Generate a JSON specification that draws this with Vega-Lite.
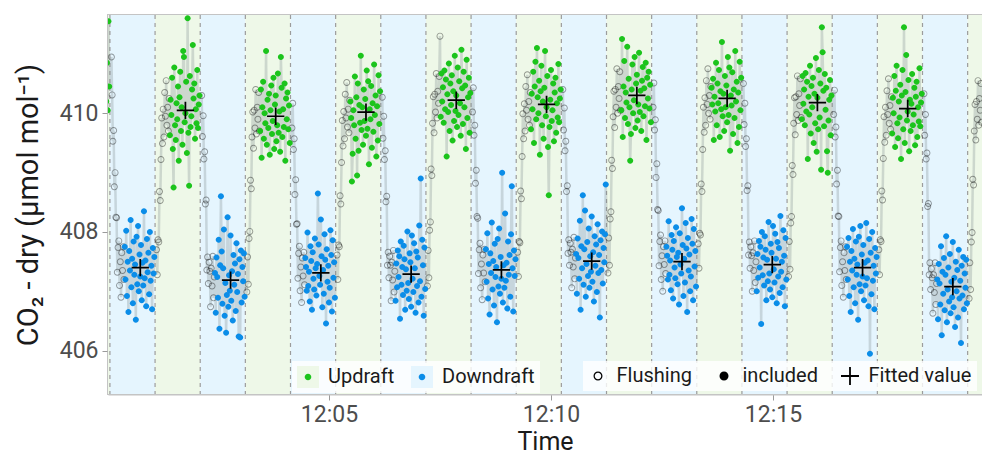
{
"$schema":"https://vega.github.io/schema/vega-lite/v6.json",
"width":874,"height":379,
"autosize":{"type":"none"},
"padding":{"left":108,"top":15,"right":0,"bottom":62},
"background":"white",
"config":{
 "font":"Roboto",
 "view":{"stroke":"#c4c4c4","strokeWidth":2},
 "axis":{"labelFont":"Roboto","titleFont":"Roboto","labelFontSize":23,"labelColor":"#4d4d4d","titleFontSize":27,"titleColor":"#1a1a1a","titleFontWeight":"normal","tickColor":"#9a9a9a","tickSize":6,"domainColor":"#c4c4c4","domainWidth":2,"grid":false,"labelPadding":4},
 "legend":{"labelFont":"Roboto","labelColor":"#1a1a1a","labelFontSize":20}
},
"datasets":{
"bands":[{"s":-57,"e":4,"d":"Up"},{"s":4,"e":65,"d":"Down"},{"s":65,"e":126,"d":"Up"},{"s":126,"e":187,"d":"Down"},{"s":187,"e":248,"d":"Up"},{"s":248,"e":309,"d":"Down"},{"s":309,"e":370,"d":"Up"},{"s":370,"e":431,"d":"Down"},{"s":431,"e":492,"d":"Up"},{"s":492,"e":553,"d":"Down"},{"s":553,"e":614,"d":"Up"},{"s":614,"e":675,"d":"Down"},{"s":675,"e":736,"d":"Up"},{"s":736,"e":797,"d":"Down"},{"s":797,"e":858,"d":"Up"},{"s":858,"e":919,"d":"Down"},{"s":919,"e":980,"d":"Up"},{"s":980,"e":1041,"d":"Down"},{"s":1041,"e":1102,"d":"Up"},{"s":1102,"e":1163,"d":"Down"},{"s":1163,"e":1224,"d":"Up"}],
"fit":[{"t":45,"v":407.40},{"t":106,"v":410.05},{"t":167,"v":407.19},{"t":228,"v":409.95},{"t":289,"v":407.31},{"t":350,"v":410.02},{"t":411,"v":407.29},{"t":472,"v":410.22},{"t":533,"v":407.36},{"t":594,"v":410.15},{"t":655,"v":407.51},{"t":716,"v":410.30},{"t":777,"v":407.50},{"t":838,"v":410.25},{"t":899,"v":407.45},{"t":960,"v":410.18},{"t":1021,"v":407.40},{"t":1082,"v":410.08},{"t":1143,"v":407.08}],
"pts":[
{"t":-1,"v":410.20,"k":"U"},{"t":0,"v":410.85,"k":"U"},{"t":1,"v":410.05,"k":"U"},{"t":2,"v":411.55,"k":"U"},{"t":3,"v":410.45,"k":"U"},
{"t":6,"v":410.95,"k":"F"},{"t":7,"v":410.31,"k":"F"},{"t":8,"v":409.53,"k":"F"},{"t":9,"v":409.71,"k":"F"},{"t":10,"v":408.76,"k":"F"},{"t":11,"v":409.00,"k":"F"},{"t":12,"v":408.25,"k":"F"},{"t":13,"v":408.24,"k":"F"},{"t":14,"v":407.32,"k":"F"},{"t":15,"v":407.74,"k":"F"},{"t":16,"v":407.85,"k":"F"},{"t":17,"v":407.10,"k":"F"},{"t":18,"v":407.50,"k":"F"},{"t":19,"v":406.90,"k":"F"},{"t":20,"v":407.65,"k":"F"},{"t":21,"v":407.35,"k":"F"},{"t":22,"v":407.75,"k":"F"},{"t":23,"v":407.20,"k":"F"},
{"t":24,"v":407.75,"k":"D"},{"t":25,"v":407.20,"k":"D"},{"t":26,"v":408.02,"k":"D"},{"t":27,"v":406.92,"k":"D"},{"t":28,"v":407.50,"k":"D"},{"t":29,"v":406.65,"k":"D"},{"t":30,"v":407.68,"k":"D"},{"t":31,"v":407.35,"k":"D"},{"t":32,"v":408.20,"k":"D"},{"t":33,"v":407.07,"k":"D"},{"t":34,"v":407.55,"k":"D"},{"t":35,"v":406.80,"k":"D"},{"t":36,"v":407.84,"k":"D"},{"t":37,"v":407.28,"k":"D"},{"t":38,"v":407.45,"k":"D"},{"t":39,"v":406.52,"k":"D"},{"t":40,"v":407.92,"k":"D"},{"t":41,"v":407.12,"k":"D"},{"t":42,"v":408.10,"k":"D"},{"t":43,"v":407.00,"k":"D"},{"t":44,"v":407.62,"k":"D"},{"t":45,"v":407.25,"k":"D"},{"t":46,"v":407.78,"k":"D"},{"t":47,"v":406.85,"k":"D"},{"t":48,"v":407.48,"k":"D"},{"t":49,"v":407.10,"k":"D"},{"t":50,"v":408.35,"k":"D"},{"t":51,"v":407.22,"k":"D"},{"t":52,"v":407.52,"k":"D"},{"t":53,"v":406.75,"k":"D"},{"t":54,"v":407.88,"k":"D"},{"t":55,"v":407.32,"k":"D"},{"t":56,"v":407.65,"k":"D"},{"t":57,"v":406.95,"k":"D"},{"t":58,"v":408.00,"k":"D"},{"t":59,"v":407.18,"k":"D"},{"t":60,"v":407.43,"k":"D"},{"t":61,"v":406.70,"k":"D"},{"t":62,"v":407.73,"k":"D"},{"t":63,"v":407.30,"k":"D"},{"t":64,"v":407.58,"k":"D"},
{"t":67,"v":407.70,"k":"F"},{"t":68,"v":407.28,"k":"F"},{"t":69,"v":407.87,"k":"F"},{"t":70,"v":407.83,"k":"F"},{"t":71,"v":408.68,"k":"F"},{"t":72,"v":408.53,"k":"F"},{"t":73,"v":409.22,"k":"F"},{"t":74,"v":409.92,"k":"F"},{"t":75,"v":409.49,"k":"F"},{"t":76,"v":410.07,"k":"F"},{"t":77,"v":409.60,"k":"F"},{"t":78,"v":410.35,"k":"F"},{"t":79,"v":409.95,"k":"F"},{"t":80,"v":410.55,"k":"F"},{"t":81,"v":409.80,"k":"F"},{"t":82,"v":410.10,"k":"F"},{"t":83,"v":409.70,"k":"F"},{"t":84,"v":410.25,"k":"F"},
{"t":85,"v":409.63,"k":"U"},{"t":86,"v":410.23,"k":"U"},{"t":87,"v":409.97,"k":"U"},{"t":88,"v":410.60,"k":"U"},{"t":89,"v":409.40,"k":"U"},{"t":90,"v":408.75,"k":"U"},{"t":91,"v":410.77,"k":"U"},{"t":92,"v":409.80,"k":"U"},{"t":93,"v":409.55,"k":"U"},{"t":94,"v":410.17,"k":"U"},{"t":95,"v":409.90,"k":"U"},{"t":96,"v":410.45,"k":"U"},{"t":97,"v":409.20,"k":"U"},{"t":98,"v":410.27,"k":"U"},{"t":99,"v":410.70,"k":"U"},{"t":100,"v":409.70,"k":"U"},{"t":101,"v":410.10,"k":"U"},{"t":102,"v":409.47,"k":"U"},{"t":103,"v":411.05,"k":"U"},{"t":104,"v":410.95,"k":"U"},{"t":105,"v":409.85,"k":"U"},{"t":106,"v":410.00,"k":"U"},{"t":107,"v":410.53,"k":"U"},{"t":108,"v":409.33,"k":"U"},{"t":109,"v":411.60,"k":"U"},{"t":110,"v":409.67,"k":"U"},{"t":111,"v":408.78,"k":"U"},{"t":112,"v":410.63,"k":"U"},{"t":113,"v":409.77,"k":"U"},{"t":114,"v":409.95,"k":"U"},{"t":115,"v":410.40,"k":"U"},{"t":116,"v":411.15,"k":"U"},{"t":117,"v":410.25,"k":"U"},{"t":118,"v":410.50,"k":"U"},{"t":119,"v":409.57,"k":"U"},{"t":120,"v":410.07,"k":"U"},{"t":121,"v":409.83,"k":"U"},{"t":122,"v":410.73,"k":"U"},{"t":123,"v":409.75,"k":"U"},{"t":124,"v":410.15,"k":"U"},{"t":125,"v":410.30,"k":"U"},
{"t":128,"v":410.30,"k":"F"},{"t":129,"v":409.61,"k":"F"},{"t":130,"v":409.96,"k":"F"},{"t":131,"v":409.23,"k":"F"},{"t":132,"v":409.35,"k":"F"},{"t":133,"v":408.47,"k":"F"},{"t":134,"v":408.54,"k":"F"},{"t":135,"v":407.36,"k":"F"},{"t":136,"v":407.58,"k":"F"},{"t":137,"v":407.13,"k":"F"},{"t":138,"v":407.49,"k":"F"},{"t":139,"v":407.34,"k":"F"},{"t":140,"v":406.74,"k":"F"},{"t":141,"v":407.39,"k":"F"},{"t":142,"v":407.09,"k":"F"},{"t":143,"v":407.59,"k":"F"},{"t":144,"v":406.89,"k":"F"},{"t":145,"v":407.24,"k":"F"},
{"t":146,"v":407.31,"k":"D"},{"t":147,"v":406.64,"k":"D"},{"t":148,"v":407.57,"k":"D"},{"t":149,"v":407.24,"k":"D"},{"t":150,"v":406.89,"k":"D"},{"t":151,"v":407.87,"k":"D"},{"t":152,"v":406.37,"k":"D"},{"t":153,"v":407.44,"k":"D"},{"t":154,"v":408.60,"k":"D"},{"t":155,"v":407.67,"k":"D"},{"t":156,"v":406.79,"k":"D"},{"t":157,"v":407.39,"k":"D"},{"t":158,"v":408.04,"k":"D"},{"t":159,"v":406.59,"k":"D"},{"t":160,"v":407.14,"k":"D"},{"t":161,"v":406.30,"k":"D"},{"t":162,"v":406.94,"k":"D"},{"t":163,"v":408.25,"k":"D"},{"t":164,"v":406.74,"k":"D"},{"t":165,"v":407.27,"k":"D"},{"t":166,"v":407.01,"k":"D"},{"t":167,"v":407.94,"k":"D"},{"t":168,"v":406.84,"k":"D"},{"t":169,"v":407.34,"k":"D"},{"t":170,"v":406.51,"k":"D"},{"t":171,"v":407.61,"k":"D"},{"t":172,"v":407.11,"k":"D"},{"t":173,"v":407.47,"k":"D"},{"t":174,"v":406.67,"k":"D"},{"t":175,"v":407.81,"k":"D"},{"t":176,"v":406.99,"k":"D"},{"t":177,"v":407.29,"k":"D"},{"t":178,"v":406.24,"k":"D"},{"t":179,"v":407.54,"k":"D"},{"t":180,"v":406.22,"k":"D"},{"t":181,"v":407.69,"k":"D"},{"t":182,"v":406.81,"k":"D"},{"t":183,"v":407.41,"k":"D"},{"t":184,"v":407.17,"k":"D"},{"t":185,"v":407.64,"k":"D"},{"t":186,"v":406.91,"k":"D"},
{"t":189,"v":406.99,"k":"F"},{"t":190,"v":407.58,"k":"F"},{"t":191,"v":407.12,"k":"F"},{"t":192,"v":407.89,"k":"F"},{"t":193,"v":408.01,"k":"F"},{"t":194,"v":408.87,"k":"F"},{"t":195,"v":408.73,"k":"F"},{"t":196,"v":409.60,"k":"F"},{"t":197,"v":410.02,"k":"F"},{"t":198,"v":409.41,"k":"F"},{"t":199,"v":410.05,"k":"F"},{"t":200,"v":409.75,"k":"F"},{"t":201,"v":410.40,"k":"F"},{"t":202,"v":409.65,"k":"F"},{"t":203,"v":410.10,"k":"F"},{"t":204,"v":409.90,"k":"F"},{"t":205,"v":410.35,"k":"F"},{"t":206,"v":409.70,"k":"F"},
{"t":207,"v":409.70,"k":"U"},{"t":208,"v":410.40,"k":"U"},{"t":209,"v":409.25,"k":"U"},{"t":210,"v":410.10,"k":"U"},{"t":211,"v":410.53,"k":"U"},{"t":212,"v":409.57,"k":"U"},{"t":213,"v":410.00,"k":"U"},{"t":214,"v":409.83,"k":"U"},{"t":215,"v":411.05,"k":"U"},{"t":216,"v":409.47,"k":"U"},{"t":217,"v":410.23,"k":"U"},{"t":218,"v":409.75,"k":"U"},{"t":219,"v":410.33,"k":"U"},{"t":220,"v":409.30,"k":"U"},{"t":221,"v":410.05,"k":"U"},{"t":222,"v":410.47,"k":"U"},{"t":223,"v":409.65,"k":"U"},{"t":224,"v":409.87,"k":"U"},{"t":225,"v":410.60,"k":"U"},{"t":226,"v":409.40,"k":"U"},{"t":227,"v":410.15,"k":"U"},{"t":228,"v":410.30,"k":"U"},{"t":229,"v":409.53,"k":"U"},{"t":230,"v":409.80,"k":"U"},{"t":231,"v":410.67,"k":"U"},{"t":232,"v":409.67,"k":"U"},{"t":233,"v":410.03,"k":"U"},{"t":234,"v":409.35,"k":"U"},{"t":235,"v":410.95,"k":"U"},{"t":236,"v":410.43,"k":"U"},{"t":237,"v":409.60,"k":"U"},{"t":238,"v":410.07,"k":"U"},{"t":239,"v":409.77,"k":"U"},{"t":240,"v":410.50,"k":"U"},{"t":241,"v":409.20,"k":"U"},{"t":242,"v":410.25,"k":"U"},{"t":243,"v":409.90,"k":"U"},{"t":244,"v":410.35,"k":"U"},{"t":245,"v":409.73,"k":"U"},{"t":246,"v":410.13,"k":"U"},{"t":247,"v":409.50,"k":"U"},
{"t":250,"v":409.75,"k":"F"},{"t":251,"v":410.17,"k":"F"},{"t":252,"v":409.39,"k":"F"},{"t":253,"v":409.57,"k":"F"},{"t":254,"v":408.63,"k":"F"},{"t":255,"v":408.88,"k":"F"},{"t":256,"v":408.13,"k":"F"},{"t":257,"v":408.14,"k":"F"},{"t":258,"v":407.22,"k":"F"},{"t":259,"v":407.64,"k":"F"},{"t":260,"v":407.76,"k":"F"},{"t":261,"v":407.01,"k":"F"},{"t":262,"v":407.41,"k":"F"},{"t":263,"v":406.81,"k":"F"},{"t":264,"v":407.56,"k":"F"},{"t":265,"v":407.26,"k":"F"},{"t":266,"v":407.66,"k":"F"},{"t":267,"v":407.11,"k":"F"},
{"t":268,"v":407.56,"k":"D"},{"t":269,"v":407.41,"k":"D"},{"t":270,"v":407.01,"k":"D"},{"t":271,"v":407.99,"k":"D"},{"t":272,"v":407.09,"k":"D"},{"t":273,"v":407.33,"k":"D"},{"t":274,"v":406.83,"k":"D"},{"t":275,"v":407.76,"k":"D"},{"t":276,"v":407.51,"k":"D"},{"t":277,"v":406.69,"k":"D"},{"t":278,"v":407.66,"k":"D"},{"t":279,"v":407.21,"k":"D"},{"t":280,"v":407.03,"k":"D"},{"t":281,"v":407.89,"k":"D"},{"t":282,"v":407.39,"k":"D"},{"t":283,"v":406.93,"k":"D"},{"t":284,"v":407.46,"k":"D"},{"t":285,"v":408.65,"k":"D"},{"t":286,"v":407.79,"k":"D"},{"t":287,"v":407.26,"k":"D"},{"t":288,"v":407.11,"k":"D"},{"t":289,"v":408.21,"k":"D"},{"t":290,"v":407.59,"k":"D"},{"t":291,"v":406.73,"k":"D"},{"t":292,"v":407.36,"k":"D"},{"t":293,"v":406.96,"k":"D"},{"t":294,"v":407.96,"k":"D"},{"t":295,"v":407.53,"k":"D"},{"t":296,"v":406.46,"k":"D"},{"t":297,"v":407.71,"k":"D"},{"t":298,"v":407.16,"k":"D"},{"t":299,"v":407.43,"k":"D"},{"t":300,"v":406.81,"k":"D"},{"t":301,"v":407.06,"k":"D"},{"t":302,"v":408.03,"k":"D"},{"t":303,"v":407.61,"k":"D"},{"t":304,"v":406.66,"k":"D"},{"t":305,"v":407.86,"k":"D"},{"t":306,"v":407.23,"k":"D"},{"t":307,"v":407.49,"k":"D"},{"t":308,"v":406.89,"k":"D"},
{"t":311,"v":407.61,"k":"F"},{"t":312,"v":407.20,"k":"F"},{"t":313,"v":407.78,"k":"F"},{"t":314,"v":407.75,"k":"F"},{"t":315,"v":408.61,"k":"F"},{"t":316,"v":408.47,"k":"F"},{"t":317,"v":409.17,"k":"F"},{"t":318,"v":409.88,"k":"F"},{"t":319,"v":409.45,"k":"F"},{"t":320,"v":410.03,"k":"F"},{"t":321,"v":409.57,"k":"F"},{"t":322,"v":410.32,"k":"F"},{"t":323,"v":409.92,"k":"F"},{"t":324,"v":410.52,"k":"F"},{"t":325,"v":409.77,"k":"F"},{"t":326,"v":410.07,"k":"F"},{"t":327,"v":409.67,"k":"F"},{"t":328,"v":410.22,"k":"F"},
{"t":329,"v":410.20,"k":"U"},{"t":330,"v":409.92,"k":"U"},{"t":331,"v":408.85,"k":"U"},{"t":332,"v":409.32,"k":"U"},{"t":333,"v":410.05,"k":"U"},{"t":334,"v":409.80,"k":"U"},{"t":335,"v":410.62,"k":"U"},{"t":336,"v":409.57,"k":"U"},{"t":337,"v":410.27,"k":"U"},{"t":338,"v":408.95,"k":"U"},{"t":339,"v":410.50,"k":"U"},{"t":340,"v":409.37,"k":"U"},{"t":341,"v":410.14,"k":"U"},{"t":342,"v":409.84,"k":"U"},{"t":343,"v":410.97,"k":"U"},{"t":344,"v":409.72,"k":"U"},{"t":345,"v":410.10,"k":"U"},{"t":346,"v":409.47,"k":"U"},{"t":347,"v":410.40,"k":"U"},{"t":348,"v":409.87,"k":"U"},{"t":349,"v":410.24,"k":"U"},{"t":350,"v":409.62,"k":"U"},{"t":351,"v":410.72,"k":"U"},{"t":352,"v":409.74,"k":"U"},{"t":353,"v":410.54,"k":"U"},{"t":354,"v":409.14,"k":"U"},{"t":355,"v":410.07,"k":"U"},{"t":356,"v":409.90,"k":"U"},{"t":357,"v":410.46,"k":"U"},{"t":358,"v":409.42,"k":"U"},{"t":359,"v":410.17,"k":"U"},{"t":360,"v":409.69,"k":"U"},{"t":361,"v":410.82,"k":"U"},{"t":362,"v":409.97,"k":"U"},{"t":363,"v":410.30,"k":"U"},{"t":364,"v":409.27,"k":"U"},{"t":365,"v":410.12,"k":"U"},{"t":366,"v":409.54,"k":"U"},{"t":367,"v":410.64,"k":"U"},{"t":368,"v":409.82,"k":"U"},{"t":369,"v":410.37,"k":"U"},
{"t":372,"v":410.27,"k":"F"},{"t":373,"v":409.58,"k":"F"},{"t":374,"v":409.95,"k":"F"},{"t":375,"v":409.22,"k":"F"},{"t":376,"v":409.37,"k":"F"},{"t":377,"v":408.51,"k":"F"},{"t":378,"v":408.60,"k":"F"},{"t":379,"v":407.44,"k":"F"},{"t":380,"v":407.66,"k":"F"},{"t":381,"v":407.23,"k":"F"},{"t":382,"v":407.59,"k":"F"},{"t":383,"v":407.44,"k":"F"},{"t":384,"v":406.84,"k":"F"},{"t":385,"v":407.49,"k":"F"},{"t":386,"v":407.19,"k":"F"},{"t":387,"v":407.69,"k":"F"},{"t":388,"v":406.99,"k":"F"},{"t":389,"v":407.34,"k":"F"},
{"t":390,"v":406.84,"k":"D"},{"t":391,"v":407.47,"k":"D"},{"t":392,"v":407.07,"k":"D"},{"t":393,"v":407.69,"k":"D"},{"t":394,"v":407.24,"k":"D"},{"t":395,"v":407.59,"k":"D"},{"t":396,"v":406.54,"k":"D"},{"t":397,"v":407.84,"k":"D"},{"t":398,"v":407.11,"k":"D"},{"t":399,"v":407.41,"k":"D"},{"t":400,"v":406.94,"k":"D"},{"t":401,"v":407.77,"k":"D"},{"t":402,"v":407.54,"k":"D"},{"t":403,"v":406.69,"k":"D"},{"t":404,"v":407.37,"k":"D"},{"t":405,"v":407.01,"k":"D"},{"t":406,"v":408.01,"k":"D"},{"t":407,"v":407.14,"k":"D"},{"t":408,"v":406.87,"k":"D"},{"t":409,"v":407.64,"k":"D"},{"t":410,"v":407.49,"k":"D"},{"t":411,"v":406.74,"k":"D"},{"t":412,"v":407.94,"k":"D"},{"t":413,"v":407.21,"k":"D"},{"t":414,"v":406.99,"k":"D"},{"t":415,"v":407.81,"k":"D"},{"t":416,"v":407.39,"k":"D"},{"t":417,"v":406.64,"k":"D"},{"t":418,"v":407.67,"k":"D"},{"t":419,"v":407.09,"k":"D"},{"t":420,"v":407.57,"k":"D"},{"t":421,"v":406.81,"k":"D"},{"t":422,"v":408.11,"k":"D"},{"t":423,"v":407.17,"k":"D"},{"t":424,"v":408.90,"k":"D"},{"t":425,"v":406.91,"k":"D"},{"t":426,"v":407.87,"k":"D"},{"t":427,"v":407.44,"k":"D"},{"t":428,"v":406.59,"k":"D"},{"t":429,"v":407.74,"k":"D"},{"t":430,"v":407.04,"k":"D"},
{"t":433,"v":407.09,"k":"F"},{"t":434,"v":407.69,"k":"F"},{"t":435,"v":407.23,"k":"F"},{"t":436,"v":408.03,"k":"F"},{"t":437,"v":408.17,"k":"F"},{"t":438,"v":409.06,"k":"F"},{"t":439,"v":408.95,"k":"F"},{"t":440,"v":409.83,"k":"F"},{"t":441,"v":410.28,"k":"F"},{"t":442,"v":409.67,"k":"F"},{"t":443,"v":410.32,"k":"F"},{"t":444,"v":410.02,"k":"F"},{"t":445,"v":410.67,"k":"F"},{"t":446,"v":409.92,"k":"F"},{"t":447,"v":410.37,"k":"F"},{"t":448,"v":410.17,"k":"F"},{"t":449,"v":410.62,"k":"F"},{"t":450,"v":411.30,"k":"F"},
{"t":451,"v":409.94,"k":"U"},{"t":452,"v":410.67,"k":"U"},{"t":453,"v":410.20,"k":"U"},{"t":454,"v":410.44,"k":"U"},{"t":455,"v":409.84,"k":"U"},{"t":456,"v":410.72,"k":"U"},{"t":457,"v":410.07,"k":"U"},{"t":458,"v":410.57,"k":"U"},{"t":459,"v":409.27,"k":"U"},{"t":460,"v":410.32,"k":"U"},{"t":461,"v":410.02,"k":"U"},{"t":462,"v":410.84,"k":"U"},{"t":463,"v":409.70,"k":"U"},{"t":464,"v":410.50,"k":"U"},{"t":465,"v":410.14,"k":"U"},{"t":466,"v":410.64,"k":"U"},{"t":467,"v":409.54,"k":"U"},{"t":468,"v":410.37,"k":"U"},{"t":469,"v":409.87,"k":"U"},{"t":470,"v":410.97,"k":"U"},{"t":471,"v":410.04,"k":"U"},{"t":472,"v":410.30,"k":"U"},{"t":473,"v":409.77,"k":"U"},{"t":474,"v":410.77,"k":"U"},{"t":475,"v":409.97,"k":"U"},{"t":476,"v":410.54,"k":"U"},{"t":477,"v":410.17,"k":"U"},{"t":478,"v":409.62,"k":"U"},{"t":479,"v":411.07,"k":"U"},{"t":480,"v":410.42,"k":"U"},{"t":481,"v":409.82,"k":"U"},{"t":482,"v":410.70,"k":"U"},{"t":483,"v":410.10,"k":"U"},{"t":484,"v":410.47,"k":"U"},{"t":485,"v":409.40,"k":"U"},{"t":486,"v":410.90,"k":"U"},{"t":487,"v":409.92,"k":"U"},{"t":488,"v":410.27,"k":"U"},{"t":489,"v":410.60,"k":"U"},{"t":490,"v":409.67,"k":"U"},{"t":491,"v":410.34,"k":"U"},
{"t":494,"v":410.02,"k":"F"},{"t":495,"v":410.43,"k":"F"},{"t":496,"v":409.63,"k":"F"},{"t":497,"v":409.80,"k":"F"},{"t":498,"v":408.82,"k":"F"},{"t":499,"v":409.04,"k":"F"},{"t":500,"v":408.26,"k":"F"},{"t":501,"v":408.23,"k":"F"},{"t":502,"v":407.30,"k":"F"},{"t":503,"v":407.70,"k":"F"},{"t":504,"v":407.81,"k":"F"},{"t":505,"v":407.06,"k":"F"},{"t":506,"v":407.46,"k":"F"},{"t":507,"v":406.86,"k":"F"},{"t":508,"v":407.61,"k":"F"},{"t":509,"v":407.31,"k":"F"},{"t":510,"v":407.71,"k":"F"},{"t":511,"v":407.16,"k":"F"},
{"t":512,"v":407.71,"k":"D"},{"t":513,"v":407.16,"k":"D"},{"t":514,"v":407.98,"k":"D"},{"t":515,"v":406.88,"k":"D"},{"t":516,"v":407.46,"k":"D"},{"t":517,"v":406.61,"k":"D"},{"t":518,"v":407.64,"k":"D"},{"t":519,"v":407.31,"k":"D"},{"t":520,"v":408.16,"k":"D"},{"t":521,"v":407.03,"k":"D"},{"t":522,"v":407.51,"k":"D"},{"t":523,"v":406.76,"k":"D"},{"t":524,"v":407.80,"k":"D"},{"t":525,"v":407.24,"k":"D"},{"t":526,"v":407.41,"k":"D"},{"t":527,"v":406.48,"k":"D"},{"t":528,"v":407.88,"k":"D"},{"t":529,"v":407.08,"k":"D"},{"t":530,"v":408.06,"k":"D"},{"t":531,"v":406.96,"k":"D"},{"t":532,"v":407.58,"k":"D"},{"t":533,"v":407.21,"k":"D"},{"t":534,"v":409.00,"k":"D"},{"t":535,"v":406.81,"k":"D"},{"t":536,"v":407.44,"k":"D"},{"t":537,"v":407.06,"k":"D"},{"t":538,"v":408.31,"k":"D"},{"t":539,"v":407.18,"k":"D"},{"t":540,"v":407.48,"k":"D"},{"t":541,"v":406.71,"k":"D"},{"t":542,"v":407.84,"k":"D"},{"t":543,"v":407.28,"k":"D"},{"t":544,"v":407.61,"k":"D"},{"t":545,"v":406.91,"k":"D"},{"t":546,"v":407.96,"k":"D"},{"t":547,"v":408.77,"k":"D"},{"t":548,"v":407.39,"k":"D"},{"t":549,"v":406.66,"k":"D"},{"t":550,"v":407.69,"k":"D"},{"t":551,"v":407.26,"k":"D"},{"t":552,"v":407.54,"k":"D"},
{"t":555,"v":407.66,"k":"F"},{"t":556,"v":407.25,"k":"F"},{"t":557,"v":407.84,"k":"F"},{"t":558,"v":407.82,"k":"F"},{"t":559,"v":408.69,"k":"F"},{"t":560,"v":408.56,"k":"F"},{"t":561,"v":409.27,"k":"F"},{"t":562,"v":409.99,"k":"F"},{"t":563,"v":409.57,"k":"F"},{"t":564,"v":410.16,"k":"F"},{"t":565,"v":409.70,"k":"F"},{"t":566,"v":410.45,"k":"F"},{"t":567,"v":410.05,"k":"F"},{"t":568,"v":410.65,"k":"F"},{"t":569,"v":409.90,"k":"F"},{"t":570,"v":410.20,"k":"F"},{"t":571,"v":409.80,"k":"F"},{"t":572,"v":410.35,"k":"F"},
{"t":573,"v":409.73,"k":"U"},{"t":574,"v":410.33,"k":"U"},{"t":575,"v":410.07,"k":"U"},{"t":576,"v":410.70,"k":"U"},{"t":577,"v":409.50,"k":"U"},{"t":578,"v":410.45,"k":"U"},{"t":579,"v":410.87,"k":"U"},{"t":580,"v":409.90,"k":"U"},{"t":581,"v":411.10,"k":"U"},{"t":582,"v":410.27,"k":"U"},{"t":583,"v":410.00,"k":"U"},{"t":584,"v":410.55,"k":"U"},{"t":585,"v":409.30,"k":"U"},{"t":586,"v":410.37,"k":"U"},{"t":587,"v":410.80,"k":"U"},{"t":588,"v":409.80,"k":"U"},{"t":589,"v":410.20,"k":"U"},{"t":590,"v":409.57,"k":"U"},{"t":591,"v":410.43,"k":"U"},{"t":592,"v":411.05,"k":"U"},{"t":593,"v":409.95,"k":"U"},{"t":594,"v":410.10,"k":"U"},{"t":595,"v":410.63,"k":"U"},{"t":596,"v":409.43,"k":"U"},{"t":597,"v":408.62,"k":"U"},{"t":598,"v":409.77,"k":"U"},{"t":599,"v":410.23,"k":"U"},{"t":600,"v":410.73,"k":"U"},{"t":601,"v":409.87,"k":"U"},{"t":602,"v":410.05,"k":"U"},{"t":603,"v":410.50,"k":"U"},{"t":604,"v":409.53,"k":"U"},{"t":605,"v":410.35,"k":"U"},{"t":606,"v":410.60,"k":"U"},{"t":607,"v":409.67,"k":"U"},{"t":608,"v":410.17,"k":"U"},{"t":609,"v":409.93,"k":"U"},{"t":610,"v":410.83,"k":"U"},{"t":611,"v":409.85,"k":"U"},{"t":612,"v":410.25,"k":"U"},{"t":613,"v":410.40,"k":"U"},
{"t":616,"v":410.40,"k":"F"},{"t":617,"v":409.72,"k":"F"},{"t":618,"v":410.09,"k":"F"},{"t":619,"v":409.37,"k":"F"},{"t":620,"v":409.53,"k":"F"},{"t":621,"v":408.68,"k":"F"},{"t":622,"v":408.78,"k":"F"},{"t":623,"v":407.64,"k":"F"},{"t":624,"v":407.87,"k":"F"},{"t":625,"v":407.44,"k":"F"},{"t":626,"v":407.81,"k":"F"},{"t":627,"v":407.66,"k":"F"},{"t":628,"v":407.06,"k":"F"},{"t":629,"v":407.71,"k":"F"},{"t":630,"v":407.41,"k":"F"},{"t":631,"v":407.91,"k":"F"},{"t":632,"v":407.21,"k":"F"},{"t":633,"v":407.56,"k":"F"},
{"t":634,"v":407.63,"k":"D"},{"t":635,"v":406.96,"k":"D"},{"t":636,"v":407.89,"k":"D"},{"t":637,"v":407.56,"k":"D"},{"t":638,"v":407.21,"k":"D"},{"t":639,"v":408.19,"k":"D"},{"t":640,"v":406.69,"k":"D"},{"t":641,"v":407.76,"k":"D"},{"t":642,"v":407.39,"k":"D"},{"t":643,"v":408.62,"k":"D"},{"t":644,"v":407.11,"k":"D"},{"t":645,"v":407.71,"k":"D"},{"t":646,"v":408.36,"k":"D"},{"t":647,"v":406.91,"k":"D"},{"t":648,"v":407.46,"k":"D"},{"t":649,"v":407.83,"k":"D"},{"t":650,"v":407.26,"k":"D"},{"t":651,"v":408.06,"k":"D"},{"t":652,"v":407.06,"k":"D"},{"t":653,"v":407.59,"k":"D"},{"t":654,"v":407.33,"k":"D"},{"t":655,"v":408.26,"k":"D"},{"t":656,"v":407.16,"k":"D"},{"t":657,"v":407.66,"k":"D"},{"t":658,"v":406.83,"k":"D"},{"t":659,"v":407.93,"k":"D"},{"t":660,"v":407.43,"k":"D"},{"t":661,"v":407.79,"k":"D"},{"t":662,"v":406.99,"k":"D"},{"t":663,"v":408.13,"k":"D"},{"t":664,"v":407.31,"k":"D"},{"t":665,"v":407.61,"k":"D"},{"t":666,"v":406.56,"k":"D"},{"t":667,"v":407.86,"k":"D"},{"t":668,"v":407.36,"k":"D"},{"t":669,"v":408.01,"k":"D"},{"t":670,"v":407.13,"k":"D"},{"t":671,"v":407.73,"k":"D"},{"t":672,"v":407.49,"k":"D"},{"t":673,"v":407.96,"k":"D"},{"t":674,"v":408.80,"k":"D"},
{"t":677,"v":407.31,"k":"F"},{"t":678,"v":407.90,"k":"F"},{"t":679,"v":407.44,"k":"F"},{"t":680,"v":408.22,"k":"F"},{"t":681,"v":408.34,"k":"F"},{"t":682,"v":409.21,"k":"F"},{"t":683,"v":409.07,"k":"F"},{"t":684,"v":409.94,"k":"F"},{"t":685,"v":410.37,"k":"F"},{"t":686,"v":409.76,"k":"F"},{"t":687,"v":410.40,"k":"F"},{"t":688,"v":410.10,"k":"F"},{"t":689,"v":410.75,"k":"F"},{"t":690,"v":410.00,"k":"F"},{"t":691,"v":410.45,"k":"F"},{"t":692,"v":410.25,"k":"F"},{"t":693,"v":410.70,"k":"F"},{"t":694,"v":410.05,"k":"F"},
{"t":695,"v":410.05,"k":"U"},{"t":696,"v":411.25,"k":"U"},{"t":697,"v":409.60,"k":"U"},{"t":698,"v":410.45,"k":"U"},{"t":699,"v":410.88,"k":"U"},{"t":700,"v":409.92,"k":"U"},{"t":701,"v":410.35,"k":"U"},{"t":702,"v":410.18,"k":"U"},{"t":703,"v":411.12,"k":"U"},{"t":704,"v":409.82,"k":"U"},{"t":705,"v":410.58,"k":"U"},{"t":706,"v":410.10,"k":"U"},{"t":707,"v":409.20,"k":"U"},{"t":708,"v":409.65,"k":"U"},{"t":709,"v":410.40,"k":"U"},{"t":710,"v":410.82,"k":"U"},{"t":711,"v":410.00,"k":"U"},{"t":712,"v":410.22,"k":"U"},{"t":713,"v":410.95,"k":"U"},{"t":714,"v":409.75,"k":"U"},{"t":715,"v":410.50,"k":"U"},{"t":716,"v":410.65,"k":"U"},{"t":717,"v":409.88,"k":"U"},{"t":718,"v":410.15,"k":"U"},{"t":719,"v":411.02,"k":"U"},{"t":720,"v":410.02,"k":"U"},{"t":721,"v":410.38,"k":"U"},{"t":722,"v":409.70,"k":"U"},{"t":723,"v":410.55,"k":"U"},{"t":724,"v":410.78,"k":"U"},{"t":725,"v":409.95,"k":"U"},{"t":726,"v":410.42,"k":"U"},{"t":727,"v":410.12,"k":"U"},{"t":728,"v":410.85,"k":"U"},{"t":729,"v":409.55,"k":"U"},{"t":730,"v":410.60,"k":"U"},{"t":731,"v":410.25,"k":"U"},{"t":732,"v":410.70,"k":"U"},{"t":733,"v":410.08,"k":"U"},{"t":734,"v":410.48,"k":"U"},{"t":735,"v":409.85,"k":"U"},
{"t":738,"v":410.10,"k":"F"},{"t":739,"v":410.51,"k":"F"},{"t":740,"v":409.72,"k":"F"},{"t":741,"v":409.89,"k":"F"},{"t":742,"v":408.92,"k":"F"},{"t":743,"v":409.15,"k":"F"},{"t":744,"v":408.38,"k":"F"},{"t":745,"v":408.36,"k":"F"},{"t":746,"v":407.43,"k":"F"},{"t":747,"v":407.84,"k":"F"},{"t":748,"v":407.95,"k":"F"},{"t":749,"v":407.20,"k":"F"},{"t":750,"v":407.60,"k":"F"},{"t":751,"v":407.00,"k":"F"},{"t":752,"v":407.75,"k":"F"},{"t":753,"v":407.45,"k":"F"},{"t":754,"v":407.85,"k":"F"},{"t":755,"v":407.30,"k":"F"},
{"t":756,"v":407.75,"k":"D"},{"t":757,"v":407.60,"k":"D"},{"t":758,"v":407.20,"k":"D"},{"t":759,"v":408.18,"k":"D"},{"t":760,"v":407.28,"k":"D"},{"t":761,"v":407.52,"k":"D"},{"t":762,"v":407.02,"k":"D"},{"t":763,"v":407.95,"k":"D"},{"t":764,"v":407.70,"k":"D"},{"t":765,"v":406.88,"k":"D"},{"t":766,"v":407.85,"k":"D"},{"t":767,"v":407.40,"k":"D"},{"t":768,"v":407.22,"k":"D"},{"t":769,"v":408.08,"k":"D"},{"t":770,"v":407.58,"k":"D"},{"t":771,"v":407.12,"k":"D"},{"t":772,"v":407.65,"k":"D"},{"t":773,"v":406.78,"k":"D"},{"t":774,"v":407.98,"k":"D"},{"t":775,"v":407.45,"k":"D"},{"t":776,"v":407.30,"k":"D"},{"t":777,"v":408.40,"k":"D"},{"t":778,"v":407.78,"k":"D"},{"t":779,"v":406.92,"k":"D"},{"t":780,"v":407.55,"k":"D"},{"t":781,"v":407.15,"k":"D"},{"t":782,"v":408.15,"k":"D"},{"t":783,"v":407.72,"k":"D"},{"t":784,"v":406.65,"k":"D"},{"t":785,"v":407.90,"k":"D"},{"t":786,"v":407.35,"k":"D"},{"t":787,"v":407.62,"k":"D"},{"t":788,"v":407.00,"k":"D"},{"t":789,"v":407.25,"k":"D"},{"t":790,"v":408.22,"k":"D"},{"t":791,"v":407.80,"k":"D"},{"t":792,"v":406.85,"k":"D"},{"t":793,"v":408.05,"k":"D"},{"t":794,"v":407.42,"k":"D"},{"t":795,"v":407.68,"k":"D"},{"t":796,"v":407.08,"k":"D"},
{"t":799,"v":407.80,"k":"F"},{"t":800,"v":407.39,"k":"F"},{"t":801,"v":407.98,"k":"F"},{"t":802,"v":407.95,"k":"F"},{"t":803,"v":408.81,"k":"F"},{"t":804,"v":408.68,"k":"F"},{"t":805,"v":409.39,"k":"F"},{"t":806,"v":410.10,"k":"F"},{"t":807,"v":409.68,"k":"F"},{"t":808,"v":410.26,"k":"F"},{"t":809,"v":409.80,"k":"F"},{"t":810,"v":410.55,"k":"F"},{"t":811,"v":410.15,"k":"F"},{"t":812,"v":410.75,"k":"F"},{"t":813,"v":410.00,"k":"F"},{"t":814,"v":410.30,"k":"F"},{"t":815,"v":409.90,"k":"F"},{"t":816,"v":410.45,"k":"F"},
{"t":817,"v":410.43,"k":"U"},{"t":818,"v":410.15,"k":"U"},{"t":819,"v":410.58,"k":"U"},{"t":820,"v":409.55,"k":"U"},{"t":821,"v":410.28,"k":"U"},{"t":822,"v":410.03,"k":"U"},{"t":823,"v":410.85,"k":"U"},{"t":824,"v":409.80,"k":"U"},{"t":825,"v":410.50,"k":"U"},{"t":826,"v":410.17,"k":"U"},{"t":827,"v":410.73,"k":"U"},{"t":828,"v":409.60,"k":"U"},{"t":829,"v":410.37,"k":"U"},{"t":830,"v":410.07,"k":"U"},{"t":831,"v":411.20,"k":"U"},{"t":832,"v":409.95,"k":"U"},{"t":833,"v":410.33,"k":"U"},{"t":834,"v":409.70,"k":"U"},{"t":835,"v":410.63,"k":"U"},{"t":836,"v":410.10,"k":"U"},{"t":837,"v":410.47,"k":"U"},{"t":838,"v":409.85,"k":"U"},{"t":839,"v":410.95,"k":"U"},{"t":840,"v":409.97,"k":"U"},{"t":841,"v":410.77,"k":"U"},{"t":842,"v":409.37,"k":"U"},{"t":843,"v":410.30,"k":"U"},{"t":844,"v":410.13,"k":"U"},{"t":845,"v":410.69,"k":"U"},{"t":846,"v":409.65,"k":"U"},{"t":847,"v":410.40,"k":"U"},{"t":848,"v":409.92,"k":"U"},{"t":849,"v":411.05,"k":"U"},{"t":850,"v":410.20,"k":"U"},{"t":851,"v":410.53,"k":"U"},{"t":852,"v":409.50,"k":"U"},{"t":853,"v":410.35,"k":"U"},{"t":854,"v":409.77,"k":"U"},{"t":855,"v":410.87,"k":"U"},{"t":856,"v":410.05,"k":"U"},{"t":857,"v":410.60,"k":"U"},
{"t":860,"v":410.50,"k":"F"},{"t":861,"v":409.81,"k":"F"},{"t":862,"v":410.17,"k":"F"},{"t":863,"v":409.44,"k":"F"},{"t":864,"v":409.57,"k":"F"},{"t":865,"v":408.70,"k":"F"},{"t":866,"v":408.78,"k":"F"},{"t":867,"v":407.61,"k":"F"},{"t":868,"v":407.83,"k":"F"},{"t":869,"v":407.39,"k":"F"},{"t":870,"v":407.75,"k":"F"},{"t":871,"v":407.60,"k":"F"},{"t":872,"v":407.00,"k":"F"},{"t":873,"v":407.65,"k":"F"},{"t":874,"v":407.35,"k":"F"},{"t":875,"v":407.85,"k":"F"},{"t":876,"v":407.15,"k":"F"},{"t":877,"v":407.50,"k":"F"},
{"t":878,"v":407.00,"k":"D"},{"t":879,"v":407.63,"k":"D"},{"t":880,"v":407.23,"k":"D"},{"t":881,"v":407.85,"k":"D"},{"t":882,"v":407.40,"k":"D"},{"t":883,"v":407.75,"k":"D"},{"t":884,"v":406.45,"k":"D"},{"t":885,"v":408.00,"k":"D"},{"t":886,"v":407.27,"k":"D"},{"t":887,"v":407.57,"k":"D"},{"t":888,"v":407.10,"k":"D"},{"t":889,"v":407.93,"k":"D"},{"t":890,"v":407.70,"k":"D"},{"t":891,"v":406.85,"k":"D"},{"t":892,"v":407.53,"k":"D"},{"t":893,"v":407.17,"k":"D"},{"t":894,"v":408.17,"k":"D"},{"t":895,"v":407.30,"k":"D"},{"t":896,"v":407.03,"k":"D"},{"t":897,"v":407.80,"k":"D"},{"t":898,"v":407.65,"k":"D"},{"t":899,"v":406.90,"k":"D"},{"t":900,"v":408.10,"k":"D"},{"t":901,"v":407.37,"k":"D"},{"t":902,"v":407.15,"k":"D"},{"t":903,"v":407.97,"k":"D"},{"t":904,"v":407.55,"k":"D"},{"t":905,"v":406.80,"k":"D"},{"t":906,"v":407.83,"k":"D"},{"t":907,"v":407.25,"k":"D"},{"t":908,"v":407.73,"k":"D"},{"t":909,"v":406.97,"k":"D"},{"t":910,"v":408.27,"k":"D"},{"t":911,"v":407.33,"k":"D"},{"t":912,"v":407.50,"k":"D"},{"t":913,"v":407.07,"k":"D"},{"t":914,"v":408.03,"k":"D"},{"t":915,"v":407.60,"k":"D"},{"t":916,"v":406.75,"k":"D"},{"t":917,"v":407.90,"k":"D"},{"t":918,"v":407.20,"k":"D"},
{"t":921,"v":407.25,"k":"F"},{"t":922,"v":407.84,"k":"F"},{"t":923,"v":407.37,"k":"F"},{"t":924,"v":408.15,"k":"F"},{"t":925,"v":408.26,"k":"F"},{"t":926,"v":409.12,"k":"F"},{"t":927,"v":408.97,"k":"F"},{"t":928,"v":409.83,"k":"F"},{"t":929,"v":410.26,"k":"F"},{"t":930,"v":409.64,"k":"F"},{"t":931,"v":410.28,"k":"F"},{"t":932,"v":409.98,"k":"F"},{"t":933,"v":410.63,"k":"F"},{"t":934,"v":409.88,"k":"F"},{"t":935,"v":410.33,"k":"F"},{"t":936,"v":410.13,"k":"F"},{"t":937,"v":410.58,"k":"F"},{"t":938,"v":409.93,"k":"F"},
{"t":939,"v":409.90,"k":"U"},{"t":940,"v":410.63,"k":"U"},{"t":941,"v":410.16,"k":"U"},{"t":942,"v":410.40,"k":"U"},{"t":943,"v":409.80,"k":"U"},{"t":944,"v":410.68,"k":"U"},{"t":945,"v":410.03,"k":"U"},{"t":946,"v":410.53,"k":"U"},{"t":947,"v":409.23,"k":"U"},{"t":948,"v":410.28,"k":"U"},{"t":949,"v":409.98,"k":"U"},{"t":950,"v":410.80,"k":"U"},{"t":951,"v":409.66,"k":"U"},{"t":952,"v":410.46,"k":"U"},{"t":953,"v":410.10,"k":"U"},{"t":954,"v":410.60,"k":"U"},{"t":955,"v":409.50,"k":"U"},{"t":956,"v":410.33,"k":"U"},{"t":957,"v":409.83,"k":"U"},{"t":958,"v":410.93,"k":"U"},{"t":959,"v":409.35,"k":"U"},{"t":960,"v":410.26,"k":"U"},{"t":961,"v":409.73,"k":"U"},{"t":962,"v":410.73,"k":"U"},{"t":963,"v":409.93,"k":"U"},{"t":964,"v":410.50,"k":"U"},{"t":965,"v":409.05,"k":"U"},{"t":966,"v":411.45,"k":"U"},{"t":967,"v":411.03,"k":"U"},{"t":968,"v":410.38,"k":"U"},{"t":969,"v":409.78,"k":"U"},{"t":970,"v":410.66,"k":"U"},{"t":971,"v":410.06,"k":"U"},{"t":972,"v":410.43,"k":"U"},{"t":973,"v":409.36,"k":"U"},{"t":974,"v":409.00,"k":"U"},{"t":975,"v":409.88,"k":"U"},{"t":976,"v":410.23,"k":"U"},{"t":977,"v":410.56,"k":"U"},{"t":978,"v":409.63,"k":"U"},{"t":979,"v":410.30,"k":"U"},
{"t":982,"v":409.98,"k":"F"},{"t":983,"v":410.39,"k":"F"},{"t":984,"v":409.60,"k":"F"},{"t":985,"v":409.77,"k":"F"},{"t":986,"v":408.81,"k":"F"},{"t":987,"v":409.04,"k":"F"},{"t":988,"v":408.27,"k":"F"},{"t":989,"v":408.26,"k":"F"},{"t":990,"v":407.33,"k":"F"},{"t":991,"v":407.74,"k":"F"},{"t":992,"v":407.85,"k":"F"},{"t":993,"v":407.10,"k":"F"},{"t":994,"v":407.50,"k":"F"},{"t":995,"v":406.90,"k":"F"},{"t":996,"v":407.65,"k":"F"},{"t":997,"v":407.35,"k":"F"},{"t":998,"v":407.75,"k":"F"},{"t":999,"v":407.20,"k":"F"},
{"t":1000,"v":407.75,"k":"D"},{"t":1001,"v":407.20,"k":"D"},{"t":1002,"v":407.90,"k":"D"},{"t":1003,"v":406.92,"k":"D"},{"t":1004,"v":407.50,"k":"D"},{"t":1005,"v":406.65,"k":"D"},{"t":1006,"v":407.68,"k":"D"},{"t":1007,"v":407.35,"k":"D"},{"t":1008,"v":408.05,"k":"D"},{"t":1009,"v":407.07,"k":"D"},{"t":1010,"v":407.55,"k":"D"},{"t":1011,"v":406.80,"k":"D"},{"t":1012,"v":407.84,"k":"D"},{"t":1013,"v":407.28,"k":"D"},{"t":1014,"v":407.45,"k":"D"},{"t":1015,"v":406.52,"k":"D"},{"t":1016,"v":407.92,"k":"D"},{"t":1017,"v":407.12,"k":"D"},{"t":1018,"v":408.10,"k":"D"},{"t":1019,"v":407.00,"k":"D"},{"t":1020,"v":407.62,"k":"D"},{"t":1021,"v":407.25,"k":"D"},{"t":1022,"v":407.78,"k":"D"},{"t":1023,"v":406.85,"k":"D"},{"t":1024,"v":407.48,"k":"D"},{"t":1025,"v":407.10,"k":"D"},{"t":1026,"v":408.15,"k":"D"},{"t":1027,"v":407.22,"k":"D"},{"t":1028,"v":407.52,"k":"D"},{"t":1029,"v":406.75,"k":"D"},{"t":1030,"v":407.88,"k":"D"},{"t":1031,"v":405.95,"k":"D"},{"t":1032,"v":407.65,"k":"D"},{"t":1033,"v":406.95,"k":"D"},{"t":1034,"v":408.00,"k":"D"},{"t":1035,"v":407.18,"k":"D"},{"t":1036,"v":407.43,"k":"D"},{"t":1037,"v":406.70,"k":"D"},{"t":1038,"v":407.73,"k":"D"},{"t":1039,"v":407.30,"k":"D"},{"t":1040,"v":407.58,"k":"D"},
{"t":1043,"v":407.70,"k":"F"},{"t":1044,"v":407.28,"k":"F"},{"t":1045,"v":407.87,"k":"F"},{"t":1046,"v":407.84,"k":"F"},{"t":1047,"v":408.69,"k":"F"},{"t":1048,"v":408.54,"k":"F"},{"t":1049,"v":409.24,"k":"F"},{"t":1050,"v":409.94,"k":"F"},{"t":1051,"v":409.51,"k":"F"},{"t":1052,"v":410.10,"k":"F"},{"t":1053,"v":409.63,"k":"F"},{"t":1054,"v":410.38,"k":"F"},{"t":1055,"v":409.98,"k":"F"},{"t":1056,"v":410.58,"k":"F"},{"t":1057,"v":409.83,"k":"F"},{"t":1058,"v":410.13,"k":"F"},{"t":1059,"v":409.73,"k":"F"},{"t":1060,"v":410.28,"k":"F"},
{"t":1061,"v":409.66,"k":"U"},{"t":1062,"v":410.26,"k":"U"},{"t":1063,"v":410.00,"k":"U"},{"t":1064,"v":410.63,"k":"U"},{"t":1065,"v":409.43,"k":"U"},{"t":1066,"v":410.38,"k":"U"},{"t":1067,"v":410.80,"k":"U"},{"t":1068,"v":409.83,"k":"U"},{"t":1069,"v":409.58,"k":"U"},{"t":1070,"v":410.20,"k":"U"},{"t":1071,"v":409.93,"k":"U"},{"t":1072,"v":410.48,"k":"U"},{"t":1073,"v":409.23,"k":"U"},{"t":1074,"v":410.30,"k":"U"},{"t":1075,"v":410.73,"k":"U"},{"t":1076,"v":409.73,"k":"U"},{"t":1077,"v":411.45,"k":"U"},{"t":1078,"v":409.50,"k":"U"},{"t":1079,"v":410.36,"k":"U"},{"t":1080,"v":410.98,"k":"U"},{"t":1081,"v":409.88,"k":"U"},{"t":1082,"v":410.03,"k":"U"},{"t":1083,"v":410.56,"k":"U"},{"t":1084,"v":409.36,"k":"U"},{"t":1085,"v":410.23,"k":"U"},{"t":1086,"v":409.70,"k":"U"},{"t":1087,"v":410.16,"k":"U"},{"t":1088,"v":410.66,"k":"U"},{"t":1089,"v":409.80,"k":"U"},{"t":1090,"v":409.98,"k":"U"},{"t":1091,"v":410.43,"k":"U"},{"t":1092,"v":409.46,"k":"U"},{"t":1093,"v":410.28,"k":"U"},{"t":1094,"v":410.53,"k":"U"},{"t":1095,"v":409.60,"k":"U"},{"t":1096,"v":410.10,"k":"U"},{"t":1097,"v":409.86,"k":"U"},{"t":1098,"v":410.76,"k":"U"},{"t":1099,"v":409.78,"k":"U"},{"t":1100,"v":410.18,"k":"U"},{"t":1101,"v":410.33,"k":"U"},
{"t":1104,"v":410.33,"k":"F"},{"t":1105,"v":409.63,"k":"F"},{"t":1106,"v":409.98,"k":"F"},{"t":1107,"v":409.23,"k":"F"},{"t":1108,"v":409.33,"k":"F"},{"t":1109,"v":408.43,"k":"F"},{"t":1110,"v":408.48,"k":"F"},{"t":1111,"v":407.28,"k":"F"},{"t":1112,"v":407.48,"k":"F"},{"t":1113,"v":407.03,"k":"F"},{"t":1114,"v":407.38,"k":"F"},{"t":1115,"v":407.23,"k":"F"},{"t":1116,"v":406.63,"k":"F"},{"t":1117,"v":407.28,"k":"F"},{"t":1118,"v":406.98,"k":"F"},{"t":1119,"v":407.48,"k":"F"},{"t":1120,"v":406.78,"k":"F"},{"t":1121,"v":407.13,"k":"F"},
{"t":1122,"v":407.20,"k":"D"},{"t":1123,"v":406.53,"k":"D"},{"t":1124,"v":407.46,"k":"D"},{"t":1125,"v":407.13,"k":"D"},{"t":1126,"v":406.78,"k":"D"},{"t":1127,"v":407.76,"k":"D"},{"t":1128,"v":406.26,"k":"D"},{"t":1129,"v":407.33,"k":"D"},{"t":1130,"v":406.96,"k":"D"},{"t":1131,"v":407.56,"k":"D"},{"t":1132,"v":406.68,"k":"D"},{"t":1133,"v":407.28,"k":"D"},{"t":1134,"v":407.93,"k":"D"},{"t":1135,"v":406.48,"k":"D"},{"t":1136,"v":407.03,"k":"D"},{"t":1137,"v":407.40,"k":"D"},{"t":1138,"v":406.83,"k":"D"},{"t":1139,"v":407.63,"k":"D"},{"t":1140,"v":406.63,"k":"D"},{"t":1141,"v":407.16,"k":"D"},{"t":1142,"v":406.90,"k":"D"},{"t":1143,"v":407.83,"k":"D"},{"t":1144,"v":406.73,"k":"D"},{"t":1145,"v":407.23,"k":"D"},{"t":1146,"v":406.40,"k":"D"},{"t":1147,"v":407.50,"k":"D"},{"t":1148,"v":407.00,"k":"D"},{"t":1149,"v":407.36,"k":"D"},{"t":1150,"v":406.56,"k":"D"},{"t":1151,"v":407.70,"k":"D"},{"t":1152,"v":406.88,"k":"D"},{"t":1153,"v":407.18,"k":"D"},{"t":1154,"v":406.13,"k":"D"},{"t":1155,"v":407.43,"k":"D"},{"t":1156,"v":406.93,"k":"D"},{"t":1157,"v":407.58,"k":"D"},{"t":1158,"v":406.70,"k":"D"},{"t":1159,"v":407.30,"k":"D"},{"t":1160,"v":407.06,"k":"D"},{"t":1161,"v":407.53,"k":"D"},{"t":1162,"v":406.80,"k":"D"},
{"t":1165,"v":406.88,"k":"F"},{"t":1166,"v":407.48,"k":"F"},{"t":1167,"v":407.03,"k":"F"},{"t":1168,"v":407.83,"k":"F"},{"t":1169,"v":407.99,"k":"F"},{"t":1170,"v":408.89,"k":"F"},{"t":1171,"v":408.79,"k":"F"},{"t":1172,"v":409.70,"k":"F"},{"t":1173,"v":410.15,"k":"F"},{"t":1174,"v":409.55,"k":"F"},{"t":1175,"v":410.20,"k":"F"},{"t":1176,"v":409.90,"k":"F"},{"t":1177,"v":410.55,"k":"F"},{"t":1178,"v":409.80,"k":"F"},{"t":1179,"v":410.25,"k":"F"},{"t":1180,"v":410.05,"k":"F"},{"t":1181,"v":410.50,"k":"F"},{"t":1182,"v":409.85,"k":"F"}
]},
"encoding":{
 "x":{"type":"quantitative","scale":{"domain":[1.4,1182.4],"nice":false,"zero":false},
      "axis":{"title":"Time","values":[300,600,900],"labelExpr":"datum.value == 300 ? '12:05' : datum.value == 600 ? '12:10' : '12:15'","labelPadding":3,"titlePadding":3,"titleFontSize":25}}
},
"layer":[
 {"data":{"name":"bands"},"mark":{"type":"rect","clip":true},
  "encoding":{"x":{"field":"s","type":"quantitative"},"x2":{"field":"e"},
   "fill":{"field":"d","type":"nominal","scale":{"domain":["Up","Down"],"range":["#eef8e8","#e5f5fe"]},
    "legend":{"orient":"none","legendX":184,"legendY":346,"direction":"horizontal","title":null,"symbolType":"square","symbolSize":484,"symbolStrokeWidth":0,"labelOffset":9,"columnPadding":16,"padding":5,"fillColor":"rgba(255,255,255,0.8)","labelExpr":"datum.label == 'Up' ? 'Updraft' : 'Downdraft'","zindex":1}}}},
 {"data":{"name":"bands"},"mark":{"type":"rule","clip":true,"strokeDash":[4,4],"color":"#9c9c9c","strokeWidth":1.2},
  "encoding":{"x":{"field":"s","type":"quantitative"}}},
 {"data":{"name":"pts"},"mark":{"type":"line","clip":true,"color":"#7f8c8d","opacity":0.3,"strokeWidth":2.5},
  "encoding":{"x":{"field":"t","type":"quantitative"},
   "y":{"field":"v","type":"quantitative","scale":{"domain":[405.27,411.656],"nice":false,"zero":false},
    "axis":{"title":"CO₂ - dry (µmol mol⁻¹)","values":[406,408,410],"format":"d","titlePadding":16,"titleFontSize":29}}}},
 {"data":{"name":"pts"},"transform":[{"filter":"datum.k == 'F'"}],
  "mark":{"type":"point","clip":true,"filled":true,"color":"black","opacity":0.38,"size":196},
  "encoding":{"x":{"field":"t","type":"quantitative"},"y":{"field":"v","type":"quantitative"},
   "shape":{"datum":"Flushing","scale":{"domain":["Flushing","included","Fitted value"],"range":["M-0.5,0A0.5,0.5 0 1,1 0.5,0A0.5,0.5 0 1,1 -0.5,0ZM-0.36,0A0.36,0.36 0 1,0 0.36,0A0.36,0.36 0 1,0 -0.36,0Z","M-0.5,0A0.5,0.5 0 1,1 0.5,0A0.5,0.5 0 1,1 -0.5,0Z","M-1,-0.1H-0.1V-1H0.1V-0.1H1V0.1H0.1V1H-0.1V0.1H-1Z"]},
    "legend":{"orient":"none","legendX":475,"legendY":346,"direction":"horizontal","title":null,"symbolSize":324,"symbolOpacity":1,"symbolStrokeWidth":0,"labelOffset":8.5,"columnPadding":22,"padding":5,"fillColor":"rgba(255,255,255,0.8)","zindex":1}}}},
 {"data":{"name":"pts"},"transform":[{"filter":"datum.k != 'F'"}],
  "mark":{"type":"point","clip":true,"filled":true,"opacity":1,"size":144,"shape":"M-1,-1M1,1M-0.3,0A0.3,0.3 0 1,1 0.3,0A0.3,0.3 0 1,1 -0.3,0Z"},
  "encoding":{"x":{"field":"t","type":"quantitative"},"y":{"field":"v","type":"quantitative"},
   "color":{"field":"k","type":"nominal","scale":{"domain":["U","D"],"range":["#1cc41c","#0b8de8"]},
    "legend":{"orient":"none","legendX":184,"legendY":346,"direction":"horizontal","title":null,"symbolSize":484,"symbolStrokeWidth":0,"labelOffset":9,"columnPadding":16,"padding":5,"labelOpacity":0,"labelExpr":"datum.label == 'U' ? 'Updraft' : 'Downdraft'","zindex":2}},
   "shape":{"datum":"included"}}},
 {"data":{"name":"fit"},
  "mark":{"type":"point","clip":true,"filled":true,"color":"black","opacity":1,"size":300},
  "encoding":{"x":{"field":"t","type":"quantitative"},"y":{"field":"v","type":"quantitative"},
   "shape":{"datum":"Fitted value"}}}
]
}
